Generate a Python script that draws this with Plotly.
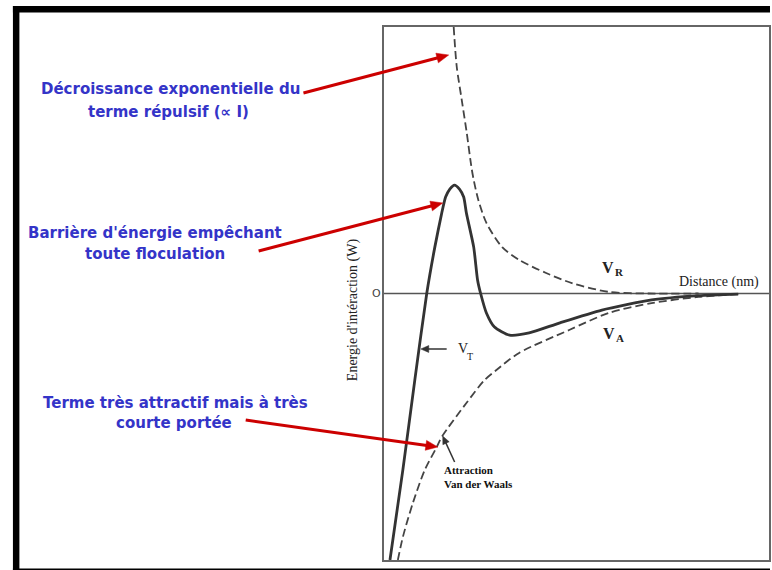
import math
import plotly.graph_objects as go

# ---- data (arbitrary units: distance 0..10, energy -10..10) ----
vr_x = [1.81, 1.89, 2.02, 2.15, 2.27, 2.33, 2.45, 2.66, 3.07, 3.51, 4.21, 4.88, 5.84, 6.87, 8.17]
vr_y = [10.0, 8.5, 7.26, 6.02, 4.75, 4.26, 3.51, 2.65, 1.74, 1.26, 0.77, 0.39, 0.06, 0.0, 0.0]

va_x = [0.36, 0.49, 0.75, 1.06, 1.37, 1.50, 2.14, 2.61, 2.92, 3.51, 4.81, 5.84, 6.95, 8.17, 9.2]
va_y = [-10.0, -9.14, -7.86, -6.62, -5.76, -5.38, -4.11, -3.25, -2.87, -2.23, -1.37, -0.73, -0.36, -0.13, -0.02]

vt_x = [0.155, 0.49, 0.80, 1.11, 1.32, 1.50, 1.60, 1.71, 1.83, 1.96, 2.07, 2.14, 2.33, 2.43,
        2.51, 2.66, 2.87, 3.26, 3.77, 4.55, 5.66, 6.95, 8.17, 9.2]
vt_y = [-10.0, -6.62, -3.25, 0.0, 1.74, 3.02, 3.62, 3.92, 4.07, 3.92, 3.62, 3.02, 1.74, 0.51,
        0.0, -0.73, -1.26, -1.56, -1.48, -1.11, -0.62, -0.24, -0.08, -0.02]

W, H = 772, 570
L, R, T, B = 384, 771, 27, 560
XMIN, XMAX, YMIN, YMAX = 0, 10, -10, 10


def px2x(px):
    return XMIN + (px - L) / (R - L) * (XMAX - XMIN)


def py2y(py):
    return YMAX - (py - T) / (B - T) * (YMAX - YMIN)


def pxp(px):
    return (px - L) / (R - L)


def pyp(py):
    return (B - py) / (B - T)


fig = go.Figure()
dash = dict(color="#444", width=1.8, dash="8px,4px", shape="spline", smoothing=0.8)
fig.add_trace(go.Scatter(x=vr_x, y=vr_y, mode="lines", line=dash, hoverinfo="skip"))
fig.add_trace(go.Scatter(x=va_x, y=va_y, mode="lines", line=dash, hoverinfo="skip"))
fig.add_trace(go.Scatter(x=vt_x, y=vt_y, mode="lines", line=dict(color="#333", width=2.8, shape="spline", smoothing=0.6),
                         hoverinfo="skip"))

shapes = [
    # zero line
    dict(type="line", xref="x", yref="y", x0=XMIN, x1=XMAX, y0=0, y1=0, line=dict(color="#555", width=1.5), layer="below"),
    # black frame
    dict(type="rect", xref="paper", yref="paper", x0=pxp(11), x1=pxp(17.5), y0=pyp(570), y1=pyp(6), fillcolor="black", line=dict(width=0)),
    dict(type="rect", xref="paper", yref="paper", x0=pxp(11), x1=pxp(772), y0=pyp(12.5), y1=pyp(6), fillcolor="black", line=dict(width=0)),
    dict(type="rect", xref="paper", yref="paper", x0=pxp(11), x1=pxp(772), y0=pyp(570), y1=pyp(568.5), fillcolor="black", line=dict(width=0)),
]


def arrow(x0, y0, x1, y1, color, width, hl, hw):
    dx, dy = x1 - x0, y1 - y0
    d = math.hypot(dx, dy)
    ux, uy = dx / d, dy / d
    nx, ny = -uy, ux
    bx, by = x1 - hl * ux, y1 - hl * uy
    shapes.append(dict(type="line", xref="paper", yref="paper", x0=pxp(x0), y0=pyp(y0),
                       x1=pxp(bx + ux), y1=pyp(by + uy), line=dict(color=color, width=width)))
    pts = [(x1, y1), (bx + hw * nx, by + hw * ny), (bx - hw * nx, by - hw * ny)]
    path = "M " + " L ".join(f"{pxp(px):.5f},{pyp(py):.5f}" for px, py in pts) + " Z"
    shapes.append(dict(type="path", xref="paper", yref="paper", path=path, fillcolor=color,
                       line=dict(color=color, width=0.5)))


arrow(303, 93, 449, 55, "#cc0000", 3, 12, 5)
arrow(258, 251, 443, 203, "#cc0000", 3, 12, 5)
arrow(245, 420, 438, 447, "#cc0000", 3, 12, 5)
arrow(447, 349, 421, 349, "#333", 1.5, 8, 3.5)
arrow(455, 462, 443, 436, "#333", 1.5, 8, 3.5)

blue = "#3434c8"
bfont = dict(family="DejaVu Sans, Noto Sans, sans-serif", size=15, color=blue)
serif = "Liberation Serif, Times New Roman, serif"
ann = []


def btext(txt, cx, cy):
    ann.append(dict(text="<b>" + txt + "</b>", xref="paper", yref="paper", x=pxp(cx), y=pyp(cy), showarrow=False,
                    font=bfont, xanchor="center", yanchor="middle"))


btext("Décroissance exponentielle du", 169, 89)
btext("terme répulsif (∝ I)", 167, 112)
btext("Barrière d'énergie empêchant", 154, 233)
btext("toute floculation", 154, 254)
btext("Terme très attractif mais à très", 174, 403)
btext("courte portée", 173, 423)


def ptext(txt, px, py, size, bold=False, anchor="left"):
    t = "<b>" + txt + "</b>" if bold else txt
    ann.append(dict(text=t, x=px2x(px), y=py2y(py), xref="x", yref="y", showarrow=False,
                    xanchor=anchor, yanchor="middle", font=dict(family=serif, size=size, color="#222")))


# V_T, V_R, V_A with subscripts as separate small texts
ptext("V", 456, 348, 14)
ptext("T", 465, 356, 10)
ptext("V", 601, 267, 16, bold=True)
ptext("R", 614, 272, 11, bold=True)
ptext("V", 602, 333, 16, bold=True)
ptext("A", 615, 338, 11, bold=True)
ptext("Distance (nm)", 721, 282, 14, anchor="center")

ann.append(dict(text="<b>Attraction<br>Van der Waals</b>", x=px2x(442), y=py2y(477), xref="x", yref="y",
                showarrow=False, xanchor="left", yanchor="middle", align="left",
                font=dict(family=serif, size=11, color="#111")))
ann.append(dict(text="Energie d'intéraction (W)", xref="paper", yref="paper", x=pxp(353), y=pyp(310),
                showarrow=False, textangle=-90, xanchor="center", yanchor="middle",
                font=dict(family=serif, size=14, color="#222")))
ann.append(dict(text="O", xref="paper", yref="paper", x=pxp(376), y=pyp(293), showarrow=False,
                xanchor="center", yanchor="middle", font=dict(family="DejaVu Sans, sans-serif", size=11, color="#444")))

fig.update_layout(
    width=W, height=H,
    margin=dict(l=L, r=W - R, t=T, b=H - B, pad=0),
    paper_bgcolor="white", plot_bgcolor="white",
    showlegend=False,
    shapes=shapes, annotations=ann,
    xaxis=dict(range=[XMIN, XMAX], showgrid=False, zeroline=False, showticklabels=False, ticks="",
               showline=True, mirror=True, linecolor="#666", linewidth=2),
    yaxis=dict(range=[YMIN, YMAX], showgrid=False, zeroline=False, showticklabels=False, ticks="",
               showline=True, mirror=True, linecolor="#666", linewidth=2),
)

fig.write_html("out.html", config={"displayModeBar": False}, post_script="document.body.style.margin='0';")
